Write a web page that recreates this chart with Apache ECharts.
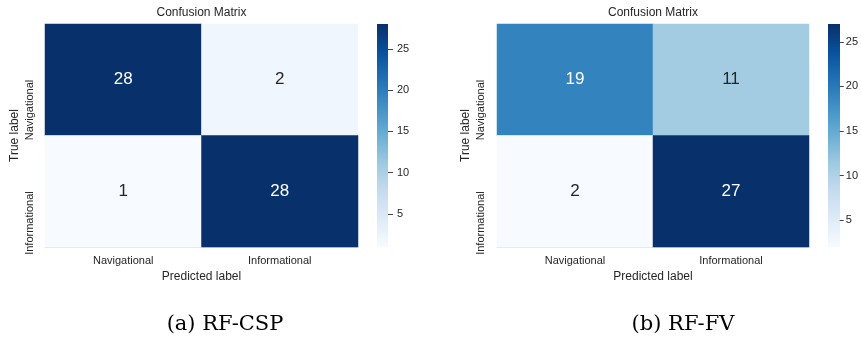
<!DOCTYPE html>
<html>
<head>
<meta charset="utf-8">
<script src="https://cdn.jsdelivr.net/npm/echarts@6/dist/echarts.min.js"></script>
<style>
html,body{margin:0;padding:0;background:#fff;}
#chart{width:861px;height:337px;}
</style>
</head>
<body>
<div id="chart"></div>
<script>
// ---- data ----
const predictedCategories = ['Navigational', 'Informational'];
const trueCategories = ['Navigational', 'Informational'];
const cspValues = [[28, 2], [1, 28]];   // rows = true label, cols = predicted
const fvValues = [[19, 11], [2, 27]];
const cspRange = [1, 28];
const fvRange = [2, 27];
const colorbarTicks = [5, 10, 15, 20, 25];
const panelTitles = ['Confusion Matrix', 'Confusion Matrix'];
const captions = ['(a) RF-CSP', '(b) RF-FV'];
const blues = ['#f7fbff', '#deebf7', '#c6dbef', '#9ecae1', '#6baed6', '#4292c6', '#2171b5', '#08519c', '#08306b'];

const FONT = 'Liberation Sans, Arial, sans-serif';
const TXT = '#262626';

function cellData(mat, range) {
  const out = [];
  mat.forEach((row, r) => row.forEach((v, c) => {
    const frac = (v - range[0]) / (range[1] - range[0]);
    out.push({ value: [c, r, v], label: { color: frac > 0.5 ? '#ffffff' : TXT } });
  }));
  return out;
}

const panels = [
  { grid: { left: 45, top: 24, width: 313, height: 223 }, bar: { left: 377, width: 11 }, values: cspValues, range: cspRange, nameGap: 24, labelMargin: 10, tickLen: 5, barMargin: 9, capX: 225 },
  { grid: { left: 497, top: 24, width: 312, height: 223 }, bar: { left: 828, width: 12 }, values: fvValues, range: fvRange, nameGap: 25, labelMargin: 11, tickLen: 4, barMargin: 6, capX: 683 }
];

const option = {
  animation: false,
  backgroundColor: '#ffffff',
  textStyle: { fontFamily: FONT },
  title: [],
  grid: [],
  xAxis: [],
  yAxis: [],
  visualMap: [],
  series: [],
  graphic: []
};

const gradStops = blues.map((c, k) => ({ offset: 1 - k / (blues.length - 1), color: c }));

panels.forEach((p, i) => {
  const cx = p.grid.left + p.grid.width / 2;
  option.title.push({
    text: panelTitles[i], left: cx, top: 6, textAlign: 'center', padding: 0,
    textStyle: { fontFamily: FONT, fontSize: 12, fontWeight: 'normal', color: TXT, lineHeight: 14 }
  });
  option.title.push({
    text: captions[i], left: p.capX, top: 313, textAlign: 'center', padding: 0,
    textStyle: { fontFamily: 'DejaVu Serif, serif', fontSize: 21, fontWeight: 'normal', color: '#000', lineHeight: 24 }
  });
  // heatmap grid
  const gi = option.grid.length;
  option.grid.push(Object.assign({ containLabel: false }, p.grid));
  option.xAxis.push({
    type: 'category', gridIndex: gi, data: predictedCategories,
    name: 'Predicted label', nameLocation: 'middle', nameGap: 23,
    nameTextStyle: { fontFamily: FONT, fontSize: 12, color: TXT },
    axisLine: { show: true, lineStyle: { color: '#e3e3e3', width: 1 } },
    axisTick: { show: false }, splitLine: { show: false },
    axisLabel: { fontFamily: FONT, fontSize: 11, color: TXT, margin: 8 }
  });
  option.yAxis.push({
    type: 'category', gridIndex: gi, data: trueCategories, inverse: true,
    name: 'True label', nameLocation: 'middle', nameGap: p.nameGap,
    nameTextStyle: { fontFamily: FONT, fontSize: 12, color: TXT },
    axisLine: { show: false }, axisTick: { show: false }, splitLine: { show: false },
    axisLabel: { fontFamily: FONT, fontSize: 11, color: TXT, rotate: 90, align: 'right', verticalAlign: 'bottom', margin: p.labelMargin }
  });
  const si = option.series.length;
  option.series.push({
    type: 'heatmap', xAxisIndex: gi, yAxisIndex: gi,
    data: cellData(p.values, p.range),
    label: { show: true, fontFamily: FONT, fontSize: 17, formatter: (d) => String(d.value[2]) },
    itemStyle: { borderWidth: 0 },
    emphasis: { disabled: true }
  });
  option.visualMap.push({
    type: 'continuous', seriesIndex: si, dimension: 2,
    min: p.range[0], max: p.range[1],
    inRange: { color: blues },
    show: false
  });
  // colorbar gradient
  option.graphic.push({
    type: 'rect', silent: true, z: -1,
    shape: { x: p.bar.left, y: p.grid.top, width: p.bar.width, height: p.grid.height },
    style: { fill: new echarts.graphic.LinearGradient(0, 0, 0, 1, gradStops) }
  });
  // colorbar axis grid
  const ci = option.grid.length;
  option.grid.push({ left: p.bar.left, top: p.grid.top, width: p.bar.width, height: p.grid.height, containLabel: false });
  option.xAxis.push({ type: 'category', gridIndex: ci, data: [''], show: false });
  option.yAxis.push({
    type: 'value', gridIndex: ci, position: 'right', min: p.range[0], max: p.range[1],
    axisLine: { show: false, onZero: false }, splitLine: { show: false },
    axisTick: { show: true, length: p.tickLen, customValues: colorbarTicks, lineStyle: { color: '#444', width: 1 } },
    axisLabel: { show: true, customValues: colorbarTicks, fontFamily: FONT, fontSize: 11, color: TXT, margin: p.barMargin }
  });
});

const chart = echarts.init(document.getElementById('chart'), null, { renderer: 'canvas' });
chart.setOption(option);
</script>
</body>
</html>
